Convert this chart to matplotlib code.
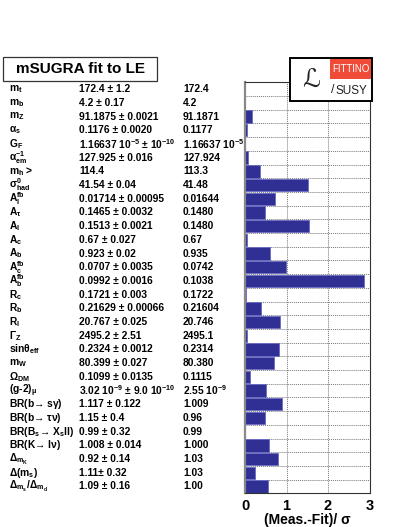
import matplotlib
matplotlib.use("Agg")
import matplotlib.pyplot as plt
from matplotlib.patches import Rectangle
from matplotlib.transforms import blended_transform_factory

plt.rcParams["font.family"] = ["Liberation Sans", "DejaVu Sans"]
plt.rcParams["font.weight"] = "bold"
plt.rcParams["axes.labelweight"] = "bold"
plt.rcParams["mathtext.fontset"] = "custom"
plt.rcParams["mathtext.rm"] = "Liberation Sans:bold"
plt.rcParams["mathtext.it"] = "Liberation Sans:bold"
plt.rcParams["mathtext.bf"] = "Liberation Sans:bold"
plt.rcParams["mathtext.sf"] = "Liberation Sans:bold"
plt.rcParams["mathtext.default"] = "rm"

OBSERVABLES = [
    r"m$_t$", r"m$_b$", r"m$_Z$", r"$\alpha_s$", r"G$_F$", r"$\alpha_{em}^{{-}1}$",
    r"m$_h$ >", r"$\sigma^0_{had}$", r"A$_l^{fb}$", r"A$_\tau$", r"A$_l$", r"A$_c$",
    r"A$_b$", r"A$_c^{fb}$", r"A$_b^{fb}$", r"R$_c$", r"R$_b$", r"R$_l$",
    r"$\Gamma_Z$", r"sin$\theta_{eff}$", r"m$_W$", r"$\Omega_{DM}$", r"(g-2)$_\mu$",
    r"BR(b→ s$\gamma$)", r"BR(b→ $\tau\nu$)",
    r"BR(B$_s$→ X$_s$ll)", r"BR(K→ l$\nu$)",
    r"$\Delta_{m_K}$", r"$\Delta$(m$_s$)", r"$\Delta_{m_s}/\Delta_{m_d}$",
]

MEASURED = [
    "172.4 ± 1.2", "4.2 ± 0.17", "91.1875 ± 0.0021", "0.1176 ± 0.0020",
    r"1.16637 10$^{{-}5}$ ± 10$^{{-}10}$", "127.925 ± 0.016", "114.4", "41.54 ± 0.04",
    "0.01714 ± 0.00095", "0.1465 ± 0.0032", "0.1513 ± 0.0021", "0.67 ± 0.027",
    "0.923 ± 0.02", "0.0707 ± 0.0035", "0.0992 ± 0.0016", "0.1721 ± 0.003",
    "0.21629 ± 0.00066", "20.767 ± 0.025", "2495.2 ± 2.51", "0.2324 ± 0.0012",
    "80.399 ± 0.027", "0.1099 ± 0.0135", r"3.02 10$^{{-}9}$ ± 9.0 10$^{{-}10}$",
    "1.117 ± 0.122", "1.15 ± 0.4", "0.99 ± 0.32", "1.008 ± 0.014",
    "0.92 ± 0.14", "1.11± 0.32", "1.09 ± 0.16",
]

FITTED = [
    "172.4", "4.2", "91.1871", "0.1177", r"1.16637 10$^{{-}5}$", "127.924", "113.3",
    "41.48", "0.01644", "0.1480", "0.1480", "0.67", "0.935", "0.0742", "0.1038",
    "0.1722", "0.21604", "20.746", "2495.1", "0.2314", "80.380", "0.1115",
    r"2.55 10$^{{-}9}$", "1.009", "0.96", "0.99", "1.000", "1.03", "1.03", "1.00",
]

PULLS = [
    0.0, 0.0, 0.18, 0.05, 0.0, 0.07, 0.37, 1.51, 0.73, 0.47, 1.55, 0.04,
    0.6, 0.99, 2.87, 0.03, 0.38, 0.84, 0.04, 0.83, 0.70, 0.12, 0.51,
    0.88, 0.47, 0.0, 0.57, 0.79, 0.25, 0.56,
]

W, H = 407, 527
fig = plt.figure(figsize=(W / 100, H / 100), dpi=100)
fig.patch.set_facecolor("white")

# plot frame in pixel coordinates
x0, x1, y_top, y_bot = 245, 369.5, 82.3, 493.3
ax = fig.add_axes([x0 / W, 1 - y_bot / H, (x1 - x0) / W, (y_bot - y_top) / H])

n = len(PULLS)
rows = list(range(n))
ax.barh(rows, PULLS, height=0.9, color="#2f2f94", edgecolor="#6a6ac4",
        linewidth=0.6, zorder=2)
ax.set_ylim(n - 0.5, -0.5)
ax.set_xlim(0, 3)

for k in range(n):
    ax.axhline(k + 0.5, color="#777777", lw=0.7, ls=(0, (1, 1)), zorder=1)
for v in (1, 2):
    ax.axvline(v, color="#777777", lw=0.7, ls=(0, (1, 1)), zorder=1)

ax.set_yticks([])
ax.set_xticks([0, 1, 2, 3])
ax.tick_params(axis="x", length=0, pad=4, labelsize=10.5)
ax.set_xlabel("(Meas.-Fit)/ σ", fontsize=10, fontweight="bold", labelpad=0)
for side in ("top", "right", "bottom"):
    ax.spines[side].set_color("#333333")
    ax.spines[side].set_linewidth(0.8)
ax.spines["left"].set_color("#888888")
ax.spines["left"].set_linewidth(1.6)

# table columns
tr = blended_transform_factory(fig.transFigure, ax.transData)
for i in rows:
    ax.text(9 / W, i, OBSERVABLES[i], transform=tr, fontsize=7.4,
            va="center", ha="left")
    ax.text(79 / W, i, MEASURED[i], transform=tr, fontsize=7.4,
            va="center", ha="left")
    ax.text(183 / W, i, FITTED[i], transform=tr, fontsize=7.4,
            va="center", ha="left")

# title box
fig.patches.append(Rectangle((3 / W, 1 - 81 / H), 154 / W, 24 / H,
                             transform=fig.transFigure, facecolor="white",
                             edgecolor="#333333", lw=0.9))
fig.text(80 / W, 1 - 69 / H, "mSUGRA fit to LE", fontsize=11,
         ha="center", va="center")

# logo
fig.patches.append(Rectangle((290 / W, 1 - 101 / H), 82 / W, 43 / H,
                             transform=fig.transFigure, facecolor="white",
                             edgecolor="black", lw=1.4, zorder=5))
fig.patches.append(Rectangle((330 / W, 1 - 79 / H), 41 / W, 20 / H,
                             transform=fig.transFigure, facecolor="#f04a38",
                             edgecolor="none", zorder=6))
fig.text(350.5 / W, 1 - 69.5 / H, "FITTINO", color="white", fontsize=7,
         fontweight="normal", ha="center", va="center", zorder=7)
fig.text(351 / W, 1 - 91 / H, "SUSY", color="#222222", fontsize=8.5,
         fontweight="normal", ha="center", va="center", zorder=7)
fig.text(311 / W, 1 - 81 / H, "ℒ", color="#222222", fontsize=18,
         family="DejaVu Sans", fontweight="normal", style="italic",
         ha="center", va="center", zorder=7)
fig.text(333 / W, 1 - 90 / H, "/", color="#222222", fontsize=9,
         fontweight="normal", ha="center", va="center", zorder=7)

fig.savefig("out.png", dpi=100)
